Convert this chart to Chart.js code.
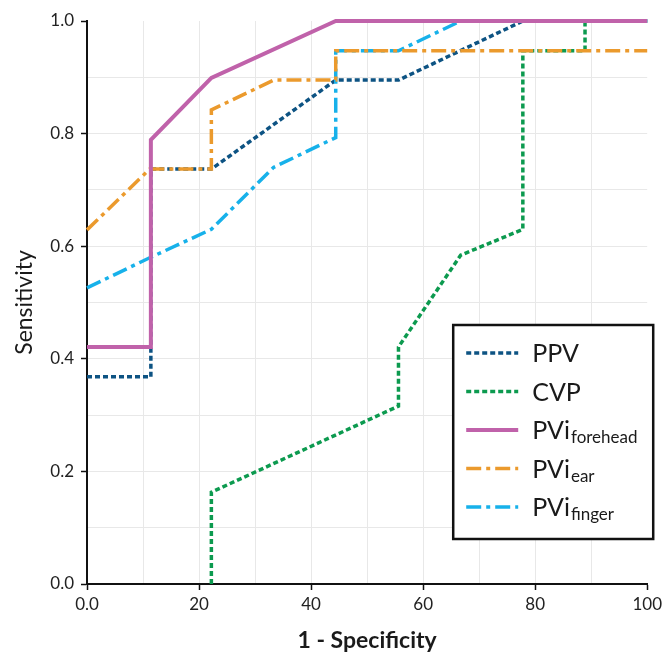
<!DOCTYPE html>
<html>
<head>
<meta charset="utf-8">
<script src="https://cdn.jsdelivr.net/npm/chart.js@4.4.1/dist/chart.umd.min.js"></script>
<style>
  html, body { margin: 0; padding: 0; background: #fff; }
  #wrap { width: 666px; height: 654px; position: relative; }
</style>
</head>
<body>
<div id="wrap"><canvas id="roc"></canvas></div>
<script>
// ROC curves, x = 1 - specificity (%), y = sensitivity
var seriesNames = ['PPV', 'CVP', 'PVi', 'PVi', 'PVi'];
var seriesSubs = ['', '', 'forehead', 'ear', 'finger'];

var ppvX = [0, 11.4, 11.4, 22.2, 44.4, 55.6, 77.8, 100];
var ppvY = [0.368, 0.368, 0.737, 0.737, 0.895, 0.895, 1.0, 1.0];

var cvpX = [22.2, 22.2, 55.6, 55.6, 66.7, 77.8, 77.8, 88.9, 88.9, 100];
var cvpY = [0.0, 0.163, 0.316, 0.421, 0.584, 0.63, 0.947, 0.947, 1.0, 1.0];

var foreheadX = [0, 11.4, 11.4, 22.2, 44.4, 100];
var foreheadY = [0.421, 0.421, 0.789, 0.899, 1.0, 1.0];

var earX = [0, 11.2, 22.2, 22.2, 33.3, 44.4, 44.4, 100];
var earY = [0.629, 0.737, 0.737, 0.842, 0.895, 0.895, 0.947, 0.947];

var fingerX = [0, 11.1, 22.2, 33.3, 44.4, 44.4, 55.6, 66.7, 100];
var fingerY = [0.526, 0.579, 0.63, 0.74, 0.793, 0.947, 0.947, 1.0, 1.0];

var xTicks = [0, 20, 40, 60, 80, 100];
var yTicks = [0, 0.2, 0.4, 0.6, 0.8, 1.0];

var colors = ['#0d5383', '#0c9a4f', '#c062aa', '#eb9a2d', '#17b1ea'];
var dashes = [[5, 3], [5, 3], [], [15, 5, 4, 5], [15, 5, 4, 5]];
var widths = [3.5, 3.5, 4, 3.5, 3.5];
var drawOrder = [3, 4, 0, 1, 2];

function toPoints(xs, ys) {
    var pts = [];
    for (var i = 0; i < xs.length; i++) {
        pts.push({x: xs[i], y: ys[i]});
    }
    return pts;
}

var allX = [ppvX, cvpX, foreheadX, earX, fingerX];
var allY = [ppvY, cvpY, foreheadY, earY, fingerY];

var datasets = [];
for (var i = 0; i < seriesNames.length; i++) {
    datasets.push({
        label: seriesNames[i] + seriesSubs[i],
        data: toPoints(allX[i], allY[i]),
        borderColor: colors[i],
        borderDash: dashes[i],
        borderWidth: widths[i],
        borderCapStyle: 'butt',
        pointRadius: 0,
        tension: 0,
        fill: false,
        clip: false,
        order: drawOrder[i]
    });
}

function isMajor(list, v) {
    return list.some(function(t) { return Math.abs(t - v) < 1e-6; });
}

// legend with subscripts, drawn on the canvas
var subLegend = {
    id: 'subLegend',
    afterDraw: function(chart) {
        var ctx = chart.ctx;
        var area = chart.chartArea;
        var w = 200, h = 214;
        var bx = area.right + 6 - w;
        var by = area.bottom - 45 - h;
        ctx.save();
        ctx.fillStyle = '#fff';
        ctx.fillRect(bx, by, w, h);
        ctx.lineWidth = 2.5;
        ctx.strokeStyle = '#111';
        ctx.strokeRect(bx, by, w, h);
        for (var i = 0; i < seriesNames.length; i++) {
            var cy = by + 28 + i * 38.5;
            ctx.beginPath();
            ctx.setLineDash(dashes[i]);
            ctx.lineWidth = widths[i];
            ctx.strokeStyle = colors[i];
            ctx.moveTo(bx + 13, cy);
            ctx.lineTo(bx + 65, cy);
            ctx.stroke();
            ctx.setLineDash([]);
            ctx.fillStyle = '#1a1a1a';
            ctx.textBaseline = 'alphabetic';
            ctx.textAlign = 'left';
            ctx.font = '25px Lato';
            ctx.fillText(seriesNames[i], bx + 79, cy + 9);
            if (seriesSubs[i]) {
                var tw = ctx.measureText(seriesNames[i]).width;
                ctx.font = '17px Lato';
                ctx.fillText(seriesSubs[i], bx + 79 + tw + 1, cy + 13);
            }
        }
        ctx.restore();
    }
};

var whiteBg = {
    id: 'whiteBg',
    beforeDraw: function(chart) {
        var ctx = chart.ctx;
        ctx.save();
        ctx.fillStyle = '#fff';
        ctx.fillRect(0, 0, chart.width, chart.height);
        ctx.restore();
    }
};

var myChart = new Chart(document.getElementById('roc'), {
    type: 'line',
    data: { datasets: datasets },
    plugins: [whiteBg, subLegend],
    options: {
        responsive: true,
        maintainAspectRatio: false,
        animation: false,
        layout: { padding: { top: 21, right: 16, left: 0, bottom: 0 } },
        plugins: {
            legend: { display: false },
            tooltip: { enabled: false }
        },
        scales: {
            x: {
                type: 'linear',
                min: 0,
                max: 100,
                afterFit: function(scale) { scale.height = 70; },
                ticks: {
                    stepSize: 10,
                    autoSkip: false,
                    maxRotation: 0,
                    padding: 4,
                    color: '#222',
                    font: { family: 'Lato', size: 17 },
                    callback: function(v) {
                        if (!isMajor(xTicks, v)) return '';
                        return v === 0 ? '0.0' : String(v);
                    }
                },
                grid: {
                    drawTicks: true,
                    tickLength: 6,
                    tickWidth: 1.5,
                    color: function(c) {
                        return (c.tick && c.tick.value >= 100) ? 'rgba(0,0,0,0)' : '#e8e8e8';
                    },
                    tickColor: function(c) {
                        return (c.tick && isMajor(xTicks, c.tick.value)) ? '#111' : 'rgba(0,0,0,0)';
                    }
                },
                border: { display: true, color: '#111', width: 2 },
                title: {
                    display: true,
                    text: '1 - Specificity',
                    color: '#1a1a1a',
                    font: { family: 'Lato', size: 23, weight: 'bold' },
                    padding: { top: 0, bottom: 0 }
                }
            },
            y: {
                type: 'linear',
                min: 0,
                max: 1,
                afterFit: function(scale) { scale.width = 87; },
                ticks: {
                    stepSize: 0.1,
                    autoSkip: false,
                    padding: 7,
                    color: '#222',
                    font: { family: 'Lato', size: 17 },
                    callback: function(v) {
                        return isMajor(yTicks, v) ? v.toFixed(1) : '';
                    }
                },
                grid: {
                    drawTicks: true,
                    tickLength: 6,
                    tickWidth: 1.5,
                    color: function(c) {
                        return (c.tick && c.tick.value >= 0.999) ? 'rgba(0,0,0,0)' : '#e8e8e8';
                    },
                    tickColor: function(c) {
                        return (c.tick && isMajor(yTicks, c.tick.value)) ? '#111' : 'rgba(0,0,0,0)';
                    }
                },
                border: { display: true, color: '#111', width: 2 },
                title: {
                    display: true,
                    text: 'Sensitivity',
                    color: '#1a1a1a',
                    font: { family: 'Lato', size: 23, weight: 'normal' },
                    padding: { top: 11, bottom: 0 }
                }
            }
        }
    }
});
</script>
</body>
</html>
